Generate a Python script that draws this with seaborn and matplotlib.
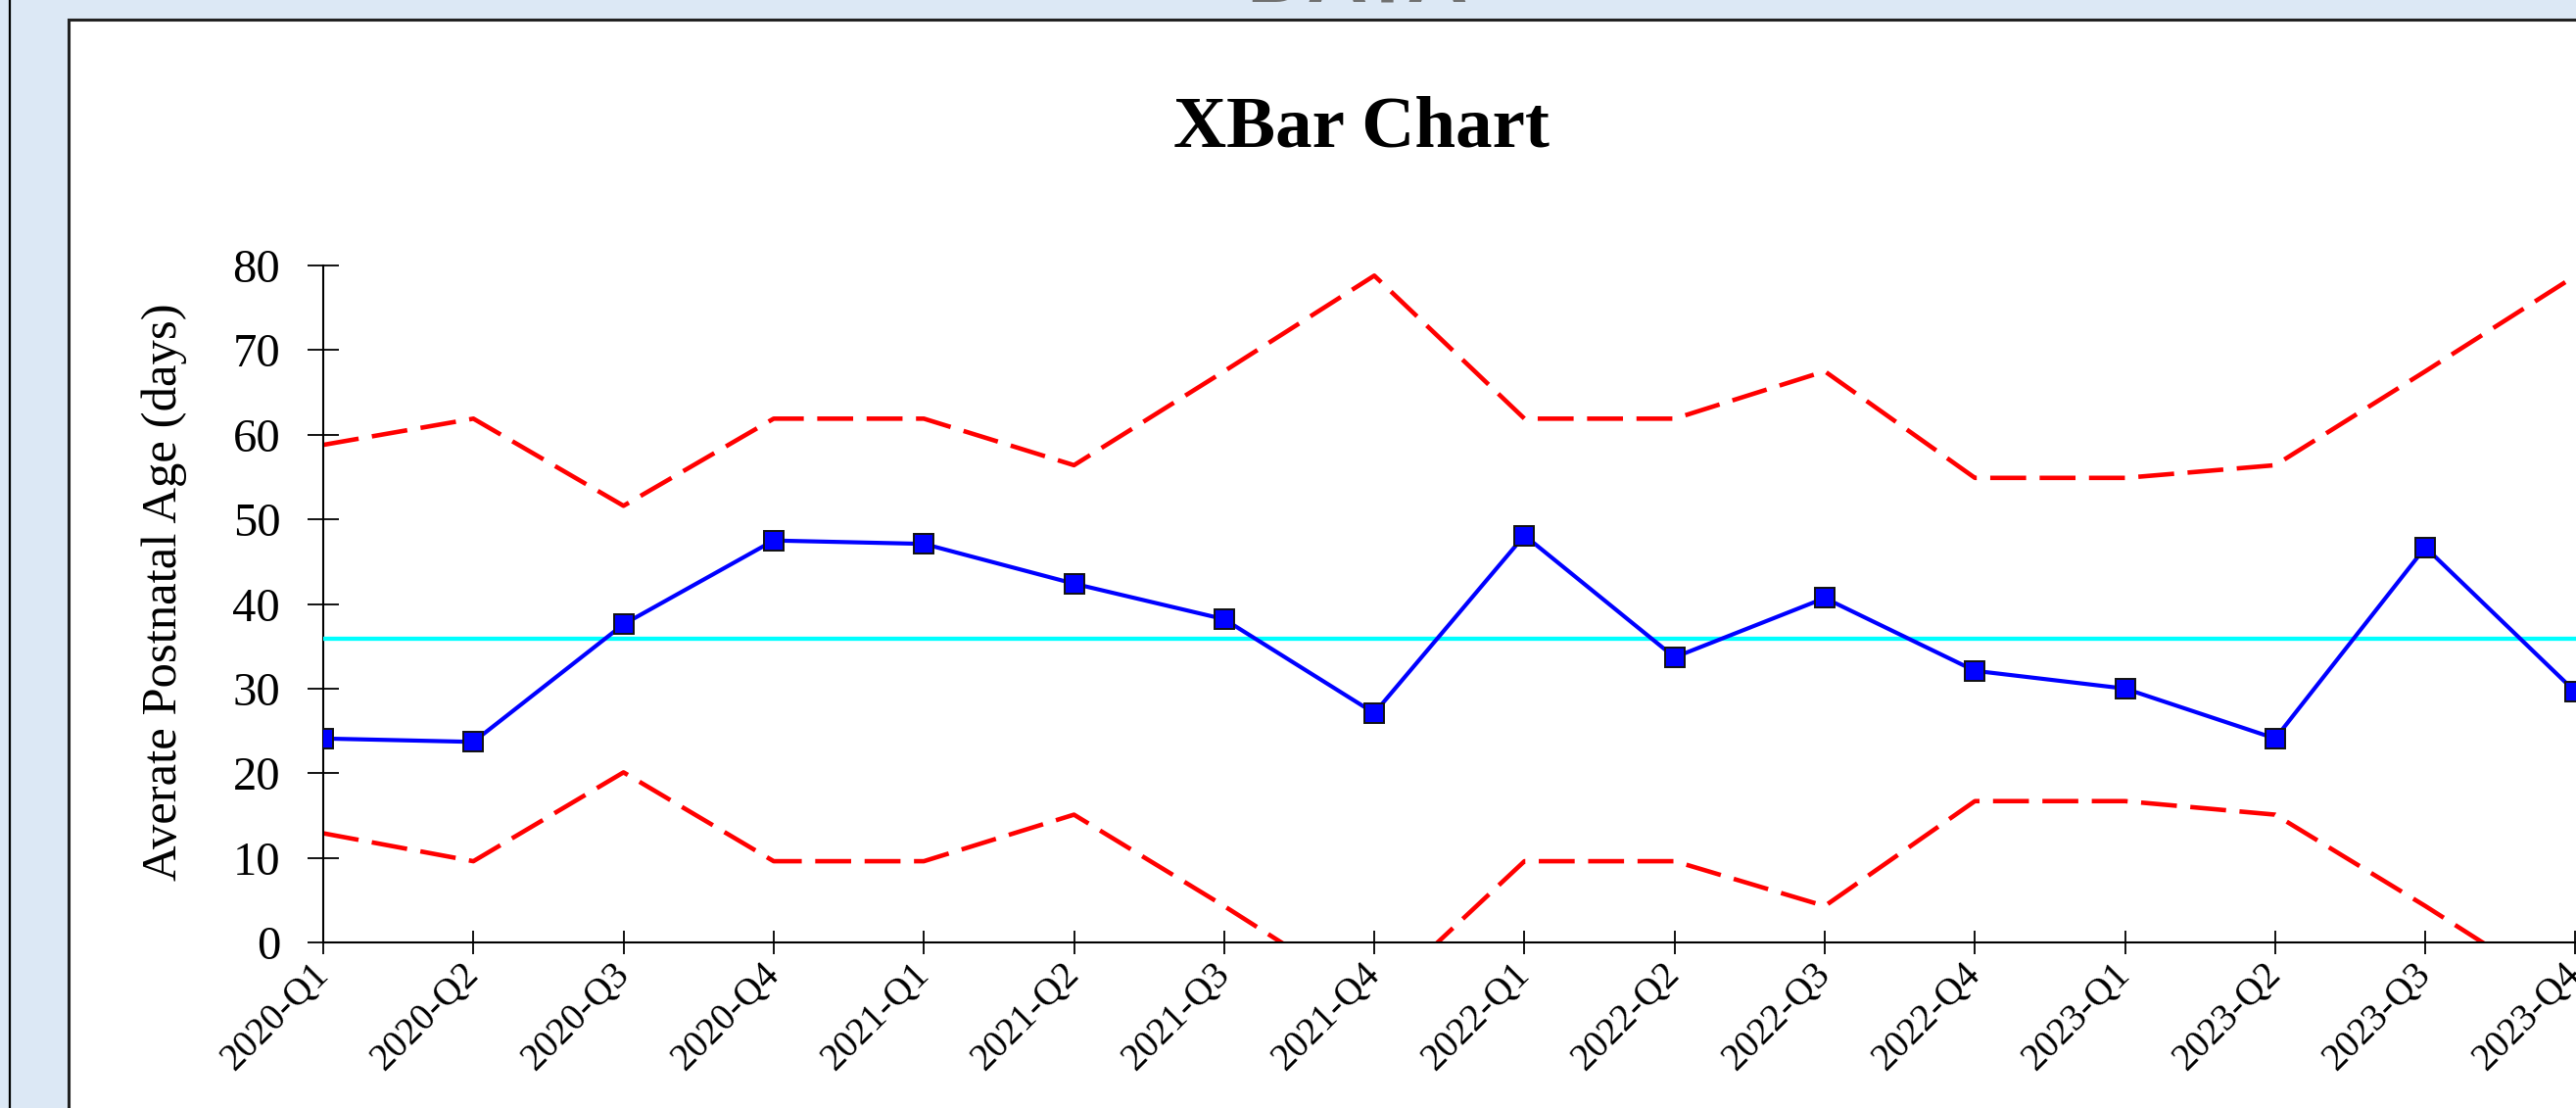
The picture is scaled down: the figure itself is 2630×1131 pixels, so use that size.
import matplotlib
matplotlib.use("Agg")
import matplotlib.pyplot as plt
import matplotlib.patches as mpatches
import matplotlib.lines as mlines
import seaborn as sns
import pandas as pd

# ---- data ----
quarters = ["2020-Q1", "2020-Q2", "2020-Q3", "2020-Q4",
            "2021-Q1", "2021-Q2", "2021-Q3", "2021-Q4",
            "2022-Q1", "2022-Q2", "2022-Q3", "2022-Q4",
            "2023-Q1", "2023-Q2", "2023-Q3", "2023-Q4"]
xbar = [24.1, 23.7, 37.6, 47.5, 47.1, 42.4, 38.2, 27.1,
        48.1, 33.7, 40.7, 32.1, 30.0, 24.1, 46.7, 29.6]
ucl = [58.8, 61.9, 51.6, 61.9, 61.9, 56.4, 67.5, 78.8,
       61.9, 61.9, 67.5, 54.9, 54.9, 56.4, 67.5, 78.8]
lcl = [12.9, 9.6, 20.1, 9.6, 9.6, 15.1, 4.3, -7.0,
       9.6, 9.6, 4.3, 16.7, 16.7, 15.1, 4.3, -7.0]
center = 35.9
title_text = "XBar Chart"
ylabel_text = "Averate Postnatal Age (days)"
yticks = [0, 10, 20, 30, 40, 50, 60, 70, 80]

df = pd.DataFrame({"quarter": quarters, "pos": list(range(len(quarters))),
                   "xbar": xbar, "ucl": ucl, "lcl": lcl})

# ---- figure ----
W, H, DPI = 2630, 1131, 100
sns.set_style("ticks")
plt.rcParams["font.family"] = ["Liberation Serif", "DejaVu Serif"]
plt.rcParams["text.color"] = "black"
plt.rcParams["axes.labelcolor"] = "black"

fig = plt.figure(figsize=(W / DPI, H / DPI), dpi=DPI)
fig.patch.set_facecolor("#dce8f5")

# outer thin black line and white panel
fig.add_artist(mlines.Line2D([10 / W, 10 / W], [0, 1], color="black", lw=1.6,
                             transform=fig.transFigure))
panel = mpatches.Rectangle((70 / W, -0.1), 2.0, (H - 20) / H + 0.1,
                           transform=fig.transFigure, facecolor="white",
                           edgecolor="#222222", lw=2.2, zorder=0)
fig.add_artist(panel)

# cut-off heading at very top (only its lowest pixels are visible)
fig.text(1386 / W, 1 - 2 / H, "DATA", ha="center", va="baseline",
         fontsize=62, color="#707070", fontweight="bold",
         family=["Liberation Sans", "DejaVu Sans"])

# axes geometry (pixels)
x0, y0_px, ytop_px = 330, 962, 271
step = 153.3
nspan = 16
ax = fig.add_axes([x0 / W, (H - y0_px) / H, nspan * step / W, (y0_px - ytop_px) / H])
ax.set_facecolor("none")

red_dash = (0, (8.0, 3.0))
sns.lineplot(data=df, x="pos", y="ucl", ax=ax, color="#ff0000", lw=3.3,
             zorder=2)
sns.lineplot(data=df, x="pos", y="lcl", ax=ax, color="#ff0000", lw=3.3,
             zorder=2)
for ln in ax.lines:
    ln.set_linestyle(red_dash)
ax.axhline(center, color="#00ffff", lw=3.1, zorder=3)
sns.lineplot(data=df, x="pos", y="xbar", ax=ax, color="#0000ff", lw=3.0,
             marker="s", markersize=15, markerfacecolor="#0000ff",
             markeredgecolor="#111111", markeredgewidth=1.4, zorder=4)

ax.set_xlim(0, nspan)
ax.set_ylim(0, 80)
ax.set_yticks(yticks)
ax.set_yticklabels([str(v) for v in yticks])
ax.set_xticks(df["pos"])
ax.set_xticklabels(quarters, rotation=45, ha="right", va="center",
                   rotation_mode="anchor")

for s in ["top", "right"]:
    ax.spines[s].set_visible(False)
for s in ["left", "bottom"]:
    ax.spines[s].set_color("black")
    ax.spines[s].set_linewidth(1.5)

ax.tick_params(axis="y", direction="inout", length=23, width=1.3,
               labelsize=35, pad=20, colors="black")
ax.tick_params(axis="x", direction="inout", length=17, width=1.3,
               labelsize=28, pad=11, colors="black")

ax.set_xlabel("")
ax.set_ylabel(ylabel_text, fontsize=36.5, va="center", color="black")
axes_w_px = nspan * step
ax.yaxis.set_label_coords(-(x0 - 168) / axes_w_px, (y0_px - 604) / (y0_px - ytop_px))

fig.text(1390 / W, 1 - 131 / H, title_text, ha="center", va="center",
         fontsize=54, fontweight="bold", color="black")

fig.savefig("out.png", dpi=DPI, facecolor=fig.get_facecolor())
